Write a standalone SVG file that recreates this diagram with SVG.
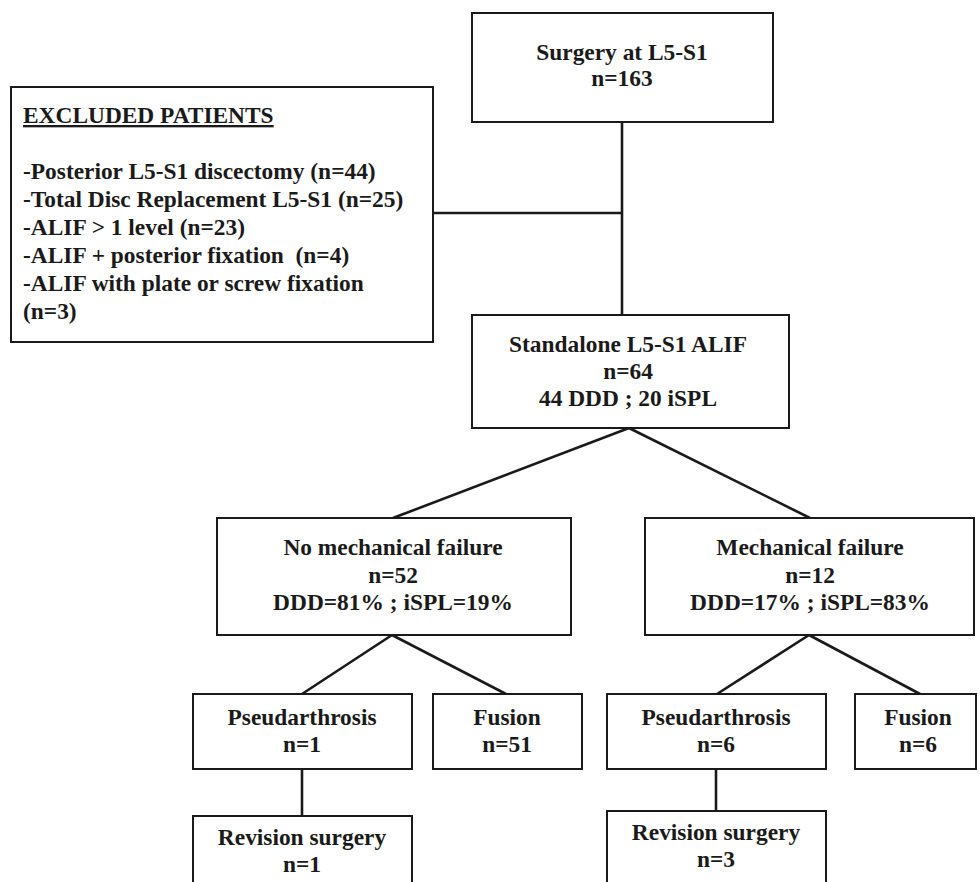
<svg xmlns="http://www.w3.org/2000/svg" width="980" height="882" viewBox="0 0 980 882">
<style>
.box{fill:#fff;stroke:#1a1a1a;stroke-width:2}
.t{font-family:"Liberation Serif","Times New Roman",serif;font-weight:bold;font-size:23.4px;fill:#1a1a1a}
.c{text-anchor:middle}
.con line{stroke:#1a1a1a;stroke-width:2.6;fill:none}
</style>
<rect width="980" height="882" fill="#fff"/>
<g id="connectors" class="con">
<line x1="622" y1="122" x2="622" y2="315"/>
<line x1="433" y1="213" x2="622" y2="213"/>
<line x1="629" y1="428" x2="393" y2="518"/>
<line x1="629" y1="428" x2="810" y2="518"/>
<line x1="392" y1="635" x2="302" y2="694"/>
<line x1="392" y1="635" x2="506" y2="694"/>
<line x1="809" y1="635" x2="717" y2="694"/>
<line x1="809" y1="635" x2="920" y2="694"/>
<line x1="302" y1="769" x2="302" y2="816"/>
<line x1="716" y1="769" x2="716" y2="811"/>
</g>
<g id="surgery">
<rect class="box" x="472" y="13" width="301" height="109"/>
<text class="t c" x="622" y="60">Surgery at L5-S1</text>
<text class="t c" x="622" y="86">n=163</text>
</g>
<g id="excluded">
<rect class="box" x="11" y="87" width="422" height="255"/>
<text class="t" x="23" y="123" text-decoration="underline">EXCLUDED PATIENTS</text>
<text class="t" x="23" y="179">-Posterior L5-S1 discectomy (n=44)</text>
<text class="t" x="23" y="207">-Total Disc Replacement L5-S1 (n=25)</text>
<text class="t" x="23" y="235">-ALIF &gt; 1 level (n=23)</text>
<text class="t" x="23" y="263" xml:space="preserve">-ALIF + posterior fixation  (n=4)</text>
<text class="t" x="23" y="291">-ALIF with plate or screw fixation</text>
<text class="t" x="23" y="319">(n=3)</text>
</g>
<g id="standalone">
<rect class="box" x="472" y="315" width="317" height="113"/>
<text class="t c" x="628" y="352">Standalone L5-S1 ALIF</text>
<text class="t c" x="628" y="379">n=64</text>
<text class="t c" x="628" y="406">44 DDD ; 20 iSPL</text>
</g>
<g id="no-mech">
<rect class="box" x="217" y="518" width="354" height="117"/>
<text class="t c" x="393" y="555">No mechanical failure</text>
<text class="t c" x="393" y="583">n=52</text>
<text class="t c" x="393" y="610">DDD=81% ; iSPL=19%</text>
</g>
<g id="mech">
<rect class="box" x="645" y="518" width="329" height="117"/>
<text class="t c" x="810" y="555">Mechanical failure</text>
<text class="t c" x="810" y="583">n=12</text>
<text class="t c" x="810" y="610">DDD=17% ; iSPL=83%</text>
</g>
<g id="pseud-left">
<rect class="box" x="193" y="694" width="219" height="75"/>
<text class="t c" x="302" y="725">Pseudarthrosis</text>
<text class="t c" x="302" y="752">n=1</text>
</g>
<g id="fusion-left">
<rect class="box" x="433" y="694" width="149" height="75"/>
<text class="t c" x="507" y="725">Fusion</text>
<text class="t c" x="507" y="752">n=51</text>
</g>
<g id="pseud-right">
<rect class="box" x="607" y="694" width="219" height="75"/>
<text class="t c" x="716" y="725">Pseudarthrosis</text>
<text class="t c" x="716" y="752">n=6</text>
</g>
<g id="fusion-right">
<rect class="box" x="855" y="694" width="121" height="75"/>
<text class="t c" x="918" y="725">Fusion</text>
<text class="t c" x="918" y="752">n=6</text>
</g>
<g id="revision-left">
<rect class="box" x="193" y="816" width="219" height="80"/>
<text class="t c" x="302" y="845">Revision surgery</text>
<text class="t c" x="302" y="872">n=1</text>
</g>
<g id="revision-right">
<rect class="box" x="607" y="811" width="219" height="85"/>
<text class="t c" x="716" y="840">Revision surgery</text>
<text class="t c" x="716" y="867">n=3</text>
</g>
</svg>
